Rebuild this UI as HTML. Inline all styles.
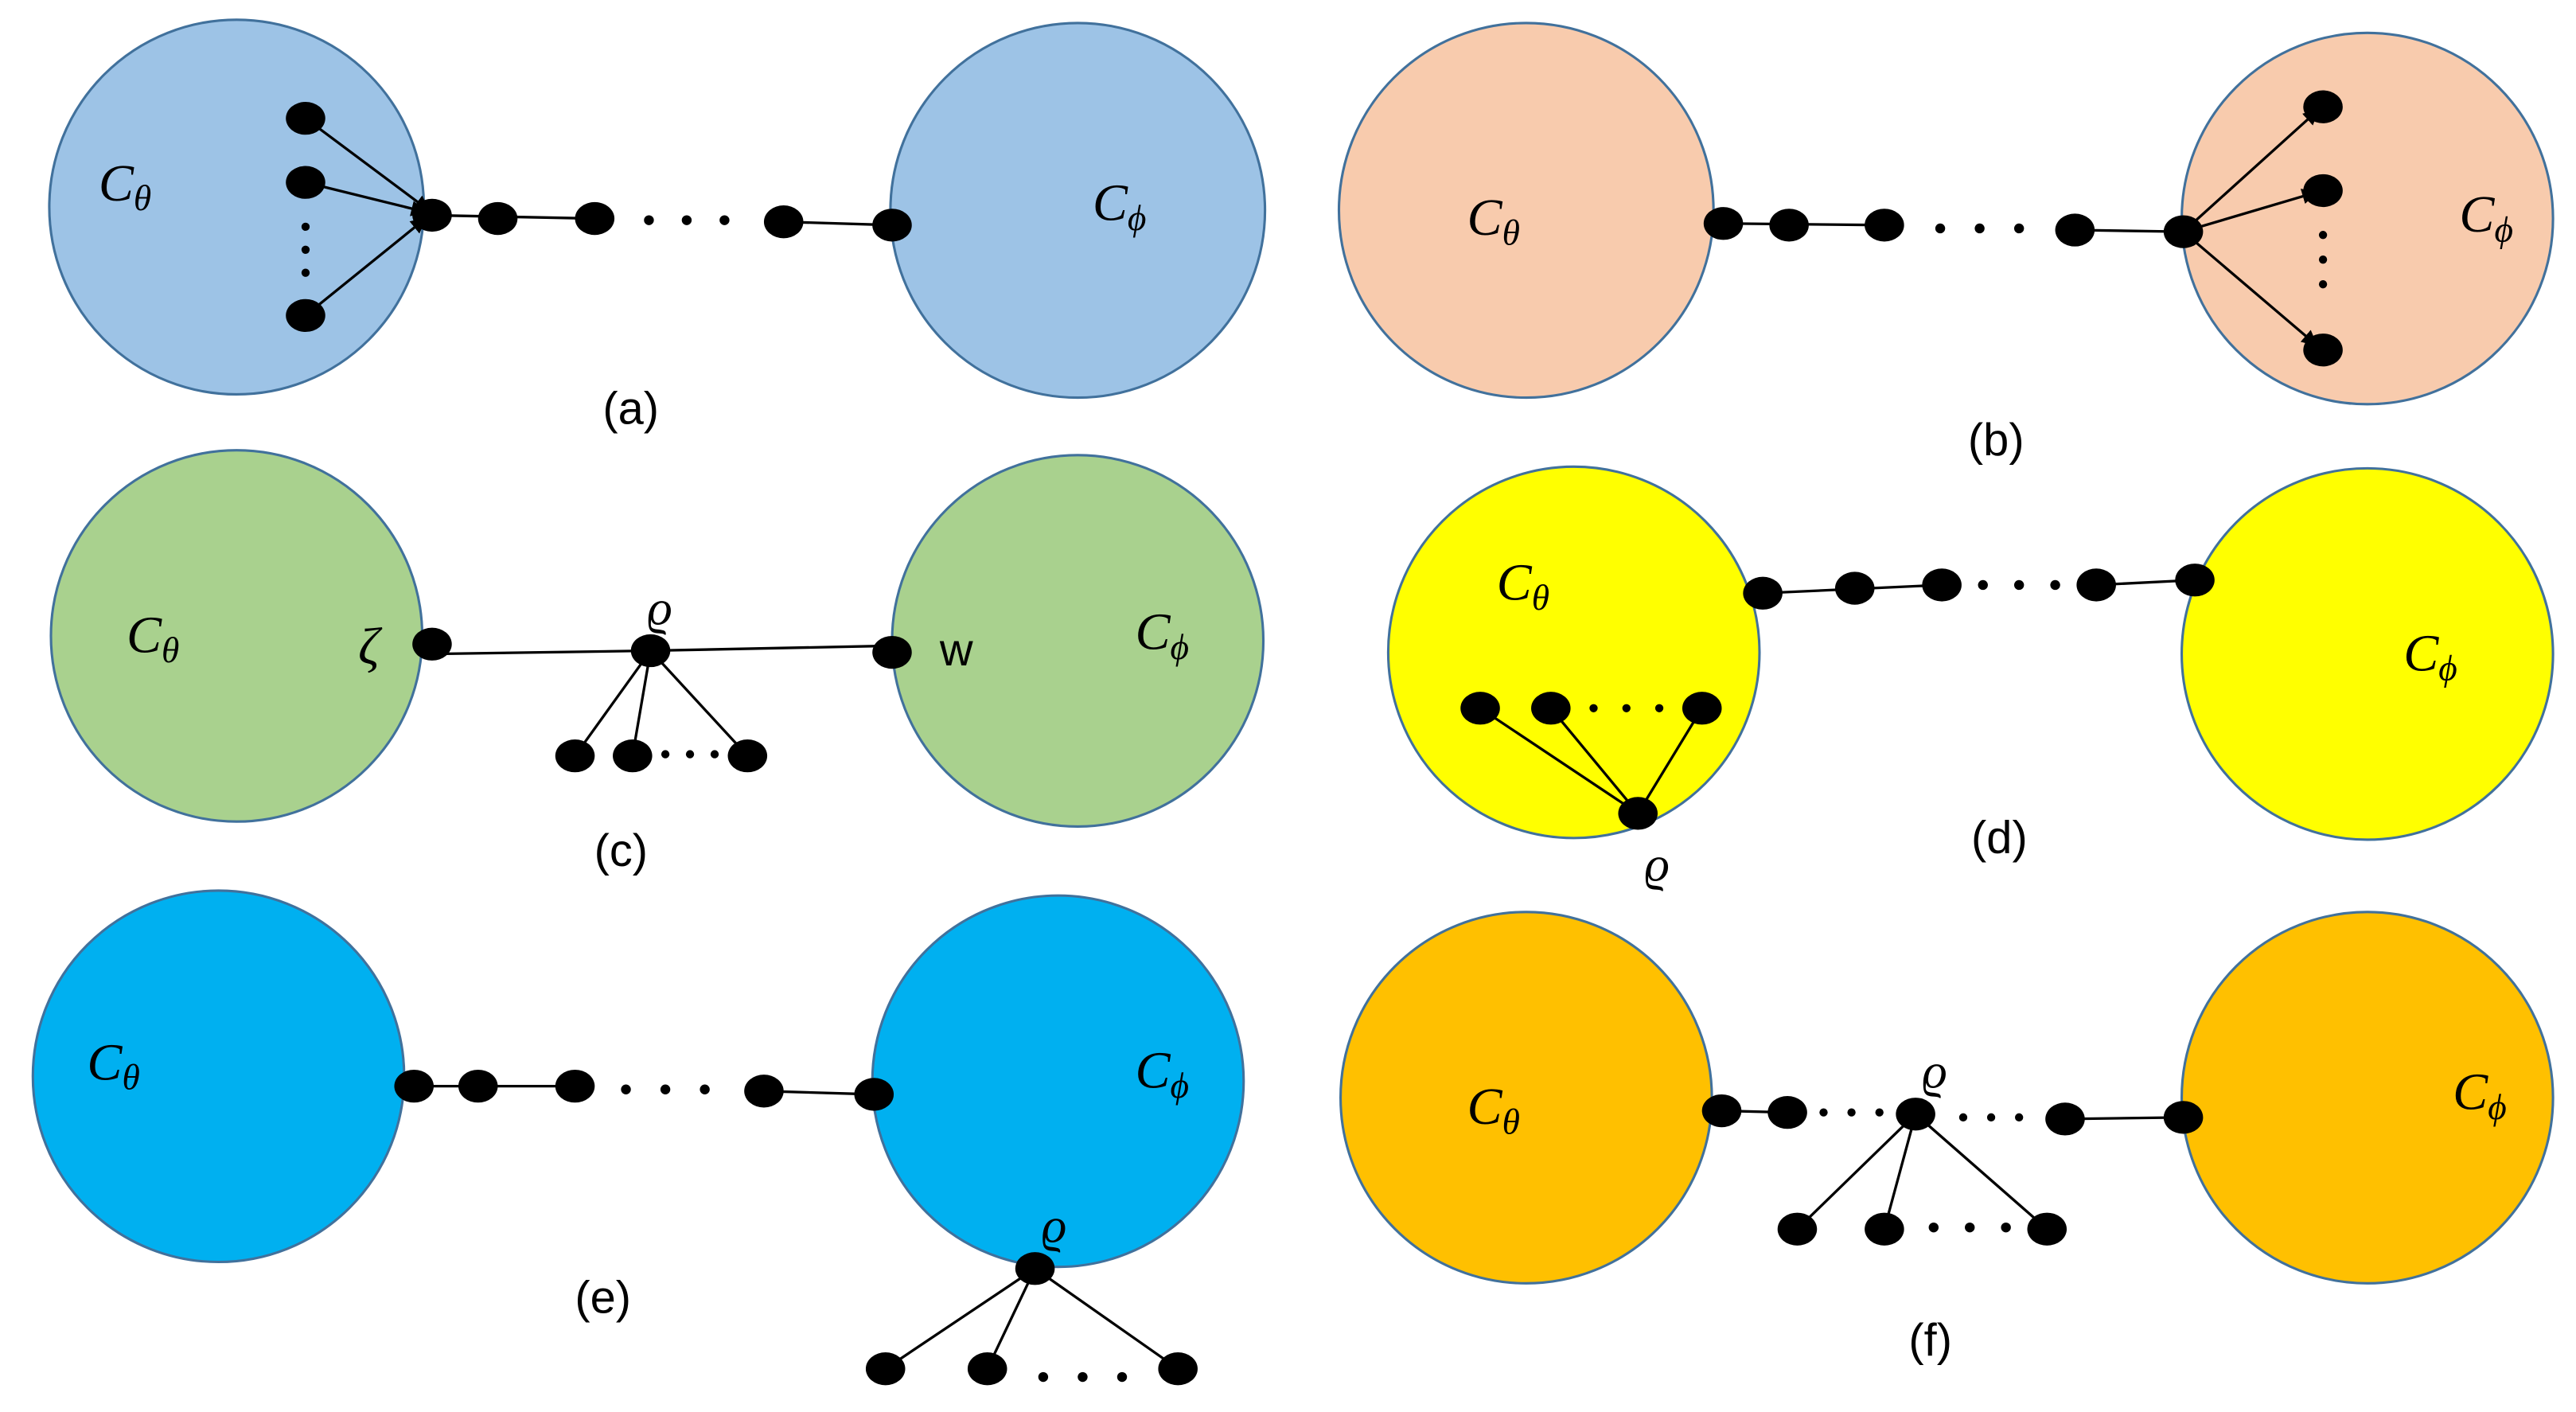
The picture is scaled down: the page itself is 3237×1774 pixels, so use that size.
<!DOCTYPE html>
<html><head><meta charset="utf-8"><style>
html,body{margin:0;padding:0;background:#fff;}
svg{display:block;}
text{font-family:"Liberation Serif",serif;}
.lbl{font-family:"Liberation Sans",sans-serif;font-size:28px;}
.c{font-style:italic;font-size:32px;}
.s{font-style:italic;font-size:22px;}
.r{font-style:italic;font-size:30px;}
</style></head><body>
<svg width="3237" height="1774" viewBox="0 0 1568 859.3" preserveAspectRatio="none" xmlns="http://www.w3.org/2000/svg">
<defs>
<marker id="ar" viewBox="0 0 10 10" refX="9" refY="5" markerWidth="6" markerHeight="6" orient="auto"><path d="M0,0 L10,5 L0,10 z" fill="#000"/></marker>
</defs>
<g stroke="#41719C" stroke-width="1.5">
<circle cx="144" cy="126" r="114" fill="#9DC3E6"/>
<circle cx="656" cy="128" r="114" fill="#9DC3E6"/>
<circle cx="929" cy="128" r="114" fill="#F8CBAD"/>
<circle cx="1441" cy="133" r="113" fill="#F8CBAD"/>
<circle cx="144" cy="387" r="113" fill="#A9D18E"/>
<circle cx="656" cy="390" r="113" fill="#A9D18E"/>
<circle cx="958" cy="397" r="113" fill="#FFFF00"/>
<circle cx="1441" cy="398" r="113" fill="#FFFF00"/>
<circle cx="133" cy="655" r="113" fill="#00B0F0"/>
<circle cx="644" cy="658" r="113" fill="#00B0F0"/>
<circle cx="929" cy="668" r="113" fill="#FFC000"/>
<circle cx="1441" cy="668" r="113" fill="#FFC000"/>
</g>
<g stroke="#000" stroke-width="1.6" fill="none">
<line x1="186" y1="72" x2="261" y2="128" marker-end="url(#ar)"/>
<line x1="186" y1="111" x2="259" y2="129" marker-end="url(#ar)"/>
<line x1="186" y1="192" x2="259" y2="133" marker-end="url(#ar)"/>
<line x1="263" y1="131" x2="362" y2="133"/>
<line x1="477" y1="135" x2="543" y2="137"/>
<line x1="1049" y1="136" x2="1147" y2="137"/>
<line x1="1263" y1="140" x2="1329" y2="141"/>
<line x1="1329" y1="141" x2="1411" y2="67" marker-end="url(#ar)"/>
<line x1="1329" y1="141" x2="1410" y2="117" marker-end="url(#ar)"/>
<line x1="1329" y1="141" x2="1410" y2="210" marker-end="url(#ar)"/>
<line x1="263" y1="398" x2="396" y2="396"/>
<line x1="396" y1="396" x2="543" y2="393"/>
<line x1="396" y1="396" x2="350" y2="460"/>
<line x1="396" y1="396" x2="385" y2="460"/>
<line x1="396" y1="396" x2="455" y2="460"/>
<line x1="1073" y1="361" x2="1182" y2="356"/>
<line x1="1276" y1="356" x2="1336" y2="353"/>
<line x1="997" y1="495" x2="901" y2="431"/>
<line x1="997" y1="495" x2="944" y2="431"/>
<line x1="997" y1="495" x2="1036" y2="431"/>
<line x1="252" y1="661" x2="350" y2="661"/>
<line x1="465" y1="664" x2="532" y2="666"/>
<line x1="630" y1="772" x2="539" y2="833"/>
<line x1="630" y1="772" x2="601" y2="833"/>
<line x1="630" y1="772" x2="717" y2="833"/>
<line x1="1048" y1="676" x2="1088" y2="677"/>
<line x1="1257" y1="681" x2="1329" y2="680"/>
<line x1="1166" y1="678" x2="1094" y2="748"/>
<line x1="1166" y1="678" x2="1147" y2="748"/>
<line x1="1166" y1="678" x2="1246" y2="748"/>
</g>
<g fill="#000">
<ellipse cx="186" cy="72" rx="12" ry="10"/><ellipse cx="186" cy="111" rx="12" ry="10"/><ellipse cx="186" cy="192" rx="12" ry="10"/>
<circle cx="186" cy="138" r="2.5"/><circle cx="186" cy="152" r="2.5"/><circle cx="186" cy="166" r="2.5"/>
<ellipse cx="263" cy="131" rx="12" ry="10"/><ellipse cx="303" cy="133" rx="12" ry="10"/><ellipse cx="362" cy="133" rx="12" ry="10"/>
<circle cx="395" cy="134" r="3"/><circle cx="418" cy="134" r="3"/><circle cx="441" cy="134" r="3"/>
<ellipse cx="477" cy="135" rx="12" ry="10"/><ellipse cx="543" cy="137" rx="12" ry="10"/>
<ellipse cx="1049" cy="136" rx="12" ry="10"/><ellipse cx="1089" cy="137" rx="12" ry="10"/><ellipse cx="1147" cy="137" rx="12" ry="10"/>
<circle cx="1181" cy="139" r="3"/><circle cx="1205" cy="139" r="3"/><circle cx="1229" cy="139" r="3"/>
<ellipse cx="1263" cy="140" rx="12" ry="10"/><ellipse cx="1329" cy="141" rx="12" ry="10"/>
<ellipse cx="1414" cy="65" rx="12" ry="10"/><ellipse cx="1414" cy="116" rx="12" ry="10"/><ellipse cx="1414" cy="213" rx="12" ry="10"/>
<circle cx="1414" cy="143" r="2.5"/><circle cx="1414" cy="158" r="2.5"/><circle cx="1414" cy="173" r="2.5"/>
<ellipse cx="263" cy="392" rx="12" ry="10"/><ellipse cx="396" cy="396" rx="12" ry="10"/><ellipse cx="543" cy="397" rx="12" ry="10"/>
<ellipse cx="350" cy="460" rx="12" ry="10"/><ellipse cx="385" cy="460" rx="12" ry="10"/><ellipse cx="455" cy="460" rx="12" ry="10"/>
<circle cx="405" cy="459" r="2.5"/><circle cx="420" cy="459" r="2.5"/><circle cx="435" cy="459" r="2.5"/>
<ellipse cx="1073" cy="361" rx="12" ry="10"/><ellipse cx="1129" cy="358" rx="12" ry="10"/><ellipse cx="1182" cy="356" rx="12" ry="10"/>
<circle cx="1207" cy="356" r="3"/><circle cx="1229" cy="356" r="3"/><circle cx="1251" cy="356" r="3"/>
<ellipse cx="1276" cy="356" rx="12" ry="10"/><ellipse cx="1336" cy="353" rx="12" ry="10"/>
<ellipse cx="901" cy="431" rx="12" ry="10"/><ellipse cx="944" cy="431" rx="12" ry="10"/><ellipse cx="1036" cy="431" rx="12" ry="10"/>
<circle cx="970" cy="431" r="2.5"/><circle cx="990" cy="431" r="2.5"/><circle cx="1010" cy="431" r="2.5"/>
<ellipse cx="997" cy="495" rx="12" ry="10"/>
<ellipse cx="252" cy="661" rx="12" ry="10"/><ellipse cx="291" cy="661" rx="12" ry="10"/><ellipse cx="350" cy="661" rx="12" ry="10"/>
<circle cx="381" cy="663" r="3"/><circle cx="405" cy="663" r="3"/><circle cx="429" cy="663" r="3"/>
<ellipse cx="465" cy="664" rx="12" ry="10"/><ellipse cx="532" cy="666" rx="12" ry="10"/>
<ellipse cx="630" cy="772" rx="12" ry="10"/>
<ellipse cx="539" cy="833" rx="12" ry="10"/><ellipse cx="601" cy="833" rx="12" ry="10"/><ellipse cx="717" cy="833" rx="12" ry="10"/>
<circle cx="635" cy="838" r="3"/><circle cx="659" cy="838" r="3"/><circle cx="683" cy="838" r="3"/>
<ellipse cx="1048" cy="676" rx="12" ry="10"/><ellipse cx="1088" cy="677" rx="12" ry="10"/>
<circle cx="1110" cy="677" r="2.5"/><circle cx="1127" cy="677" r="2.5"/><circle cx="1144" cy="677" r="2.5"/>
<ellipse cx="1166" cy="678" rx="12" ry="10"/>
<circle cx="1195" cy="680" r="2.5"/><circle cx="1212" cy="680" r="2.5"/><circle cx="1229" cy="680" r="2.5"/>
<ellipse cx="1257" cy="681" rx="12" ry="10"/><ellipse cx="1329" cy="680" rx="12" ry="10"/>
<ellipse cx="1094" cy="748" rx="12" ry="10"/><ellipse cx="1147" cy="748" rx="12" ry="10"/><ellipse cx="1246" cy="748" rx="12" ry="10"/>
<circle cx="1177" cy="747" r="3"/><circle cx="1199" cy="747" r="3"/><circle cx="1221" cy="747" r="3"/>
</g>
<g fill="#000">
<text class="c" x="60" y="122">C<tspan class="s" dy="6">θ</tspan></text>
<text class="c" x="665" y="134">C<tspan class="s" dy="6">ϕ</tspan></text>
<text class="c" x="893" y="143">C<tspan class="s" dy="6">θ</tspan></text>
<text class="c" x="1497" y="141">C<tspan class="s" dy="6">ϕ</tspan></text>
<text class="c" x="77" y="397">C<tspan class="s" dy="6">θ</tspan></text>
<text class="c" x="691" y="395">C<tspan class="s" dy="6">ϕ</tspan></text>
<text class="c" x="218" y="404">ζ</text>
<text x="572" y="405" style="font-family:'Liberation Sans',sans-serif;font-size:28px">w</text>
<text class="r" x="394" y="380">ϱ</text>
<text class="c" x="911" y="365">C<tspan class="s" dy="6">θ</tspan></text>
<text class="c" x="1463" y="408">C<tspan class="s" dy="6">ϕ</tspan></text>
<text class="r" x="1001" y="536">ϱ</text>
<text class="c" x="53" y="657">C<tspan class="s" dy="6">θ</tspan></text>
<text class="c" x="691" y="662">C<tspan class="s" dy="6">ϕ</tspan></text>
<text class="r" x="634" y="756">ϱ</text>
<text class="c" x="893" y="684">C<tspan class="s" dy="6">θ</tspan></text>
<text class="c" x="1493" y="675">C<tspan class="s" dy="6">ϕ</tspan></text>
<text class="r" x="1170" y="662">ϱ</text>
<text class="lbl" x="384" y="258" text-anchor="middle">(a)</text>
<text class="lbl" x="1215" y="277" text-anchor="middle">(b)</text>
<text class="lbl" x="378" y="527" text-anchor="middle">(c)</text>
<text class="lbl" x="1217" y="519" text-anchor="middle">(d)</text>
<text class="lbl" x="367" y="799" text-anchor="middle">(e)</text>
<text class="lbl" x="1175" y="825" text-anchor="middle">(f)</text>
</g>
</svg>
</body></html>
